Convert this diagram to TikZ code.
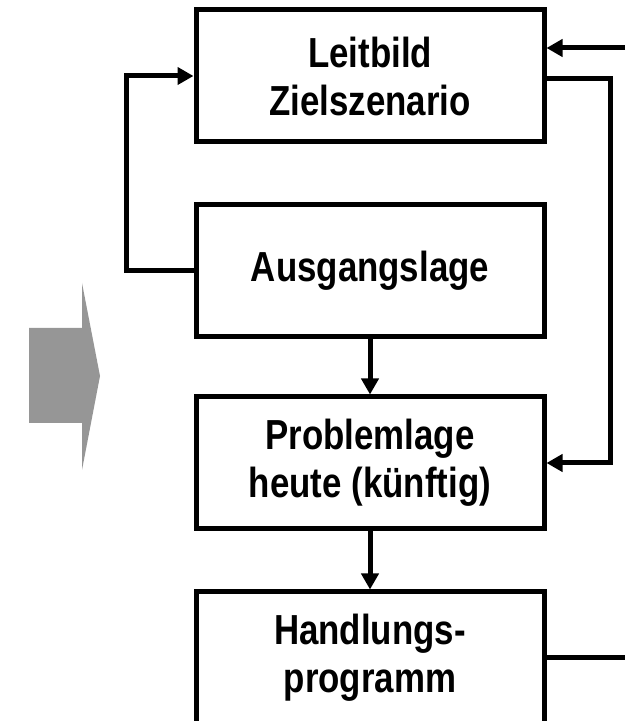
\documentclass[tikz,border=0pt]{standalone}
\usepackage{fontspec}
\setmainfont{Liberation Sans}
\newfontfamily\boxfont[FakeStretch=0.83]{Liberation Sans}
\usetikzlibrary{arrows.meta}
\definecolor{arrowgray}{RGB}{150,150,150}
\tikzset{
  stage/.style={draw, line width=5pt, minimum width=348pt, minimum height=132pt,
    inner sep=0pt, align=center,
    font=\boxfont\bfseries\fontsize{42}{48}\selectfont},
  flow/.style={line width=5pt, -{Triangle[length=16pt,width=17pt]}},
  plain/.style={line width=5pt}
}
\begin{document}
\begin{tikzpicture}[x=1pt,y=1pt]
  \useasboundingbox (0,0) rectangle (625,721);

  % big grey direction arrow on the left
  \fill[arrowgray] (29,393) -- (82,393) -- (82,438) -- (100,345)
    -- (82,251) -- (82,298) -- (29,298) -- cycle;

  % stages
  \node[stage] (b1) at (370,645) {Leitbild\\Zielszenario};
  \node[stage] (b2) at (370,450) {Ausgangslage};
  \node[stage] (b3) at (370,258) {Problemlage\\heute (künftig)};
  \node[stage] (b4) at (370,63) {Handlungs-\\programm};

  % free line ends at the right picture edge
  \coordinate (inR) at (625,673);
  \coordinate (outR) at (625,63);

  % connectors
  \draw[flow] (b2.west) -- ++(-67,0) |- (b1.west);
  \draw[flow] (inR) -- (inR -| b1.east);
  \draw[flow] ([yshift=-3pt]b1.east) -- ++(64,0) |- (b3.east);
  \draw[flow] (b2.south) -- (b3.north);
  \draw[flow] (b3.south) -- (b4.north);
  \draw[plain] (b4.east) -- (outR);
\end{tikzpicture}
\end{document}
